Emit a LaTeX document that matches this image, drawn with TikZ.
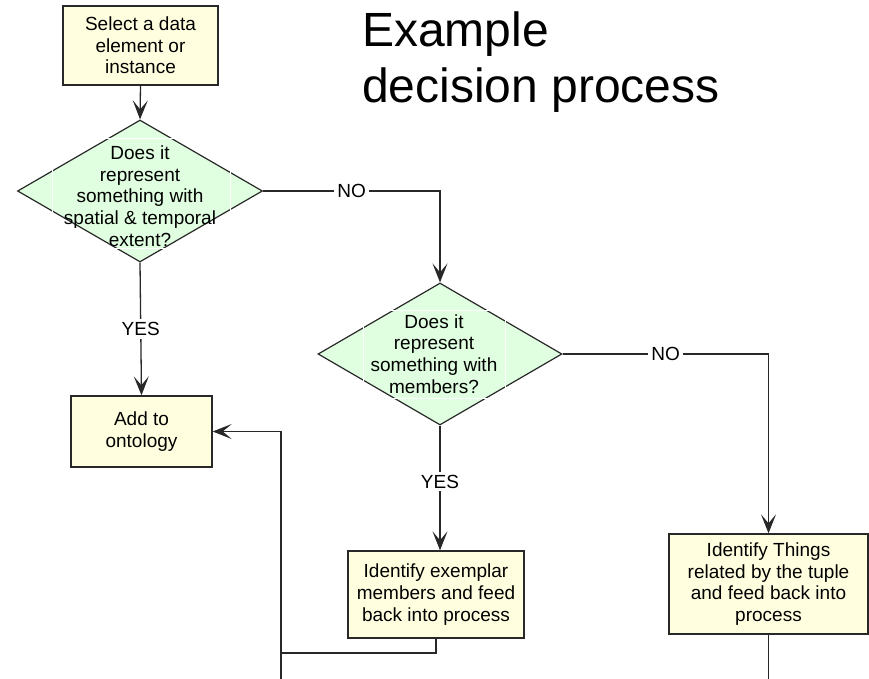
\documentclass[tikz,border=0pt]{standalone}
\usepackage{fontspec}
\setmainfont{Liberation Sans}
\usetikzlibrary{shapes.geometric,arrows.meta}
\definecolor{boxfill}{RGB}{255,255,224}
\definecolor{decfill}{RGB}{224,255,224}
\definecolor{edge}{RGB}{40,40,40}
\begin{document}
\begin{tikzpicture}[x=1pt,y=-1pt,
  every node/.style={font=\fontsize{19}{21.7}\selectfont},
  procbox/.style={draw=edge,line width=1.4pt,fill=boxfill,align=center,inner sep=0pt},
  decision/.style={diamond,draw=edge,line width=1.2pt,fill=decfill,inner sep=0pt},
  textframe/.style={draw=white,line width=0.8pt},
  flow/.style={draw=edge,line width=1.3pt},
  arr/.style={flow,-{Stealth[length=19pt,width=15pt,inset=9pt,line width=1pt]}},
  answer/.style={fill=white,inner sep=3pt},
  heading/.style={font=\fontsize{48}{56}\selectfont,align=left,anchor=north west,inner sep=0pt}
]
% page frame
\fill[white] (0,0) rectangle (869,679);
\useasboundingbox (0,0) rectangle (869,679);

% heading
\node[heading] (title) at (362,12) {Example\\decision process};

% process boxes
\node[procbox,minimum width=155pt,minimum height=79pt] (start) at (140.5,45.5)
  {Select a data\\element or\\instance};
\node[procbox,minimum width=141pt,minimum height=71pt] (add) at (141.5,431.5)
  {Add to\\ontology};
\node[procbox,minimum width=176pt,minimum height=87pt] (exemplar) at (436,594.5)
  {Identify exemplar\\members and feed\\back into process};
\node[procbox,minimum width=199pt,minimum height=100pt] (things) at (768.5,584)
  {Identify Things\\related by the tuple\\and feed back into\\process};

% decisions
\node[decision,minimum width=245pt,minimum height=142pt] (q1) at (140,191) {};
\draw[textframe] (52,138) rectangle (230,248);
\node[align=center] (q1text) at (140,196)
  {Does it\\represent\\something with\\spatial \& temporal\\extent?};

\node[decision,minimum width=244pt,minimum height=142pt] (q2) at (440,354) {};
\draw[textframe] (363,310) rectangle (505,398);
\node[align=center] (q2text) at (434,354)
  {Does it\\represent\\something with\\members?};

% open ends running off the lower edge
\coordinate (loopin) at (281,679);
\coordinate (thingsout) at (768.5,679);
\coordinate (join) at (281,653);

% connectors
\draw[arr] (start.south) -- (q1.north);
\draw[arr] (q1.south) -- node[answer,pos=0.5] {YES} (add.north);
\draw[arr] (q1.east) -| node[answer,pos=0.25] {NO} (q2.north);
\draw[arr] (q2.south) -- node[answer,pos=0.45] {YES} (q2.south |- exemplar.north);
\draw[arr] (q2.east) -| node[answer,pos=0.25] {NO} (things.north);
\draw[flow] (exemplar.south) |- (join);
\draw[arr] (loopin) |- (add.east);
\draw[flow] (things.south) -- (thingsout);
\end{tikzpicture}
\end{document}
